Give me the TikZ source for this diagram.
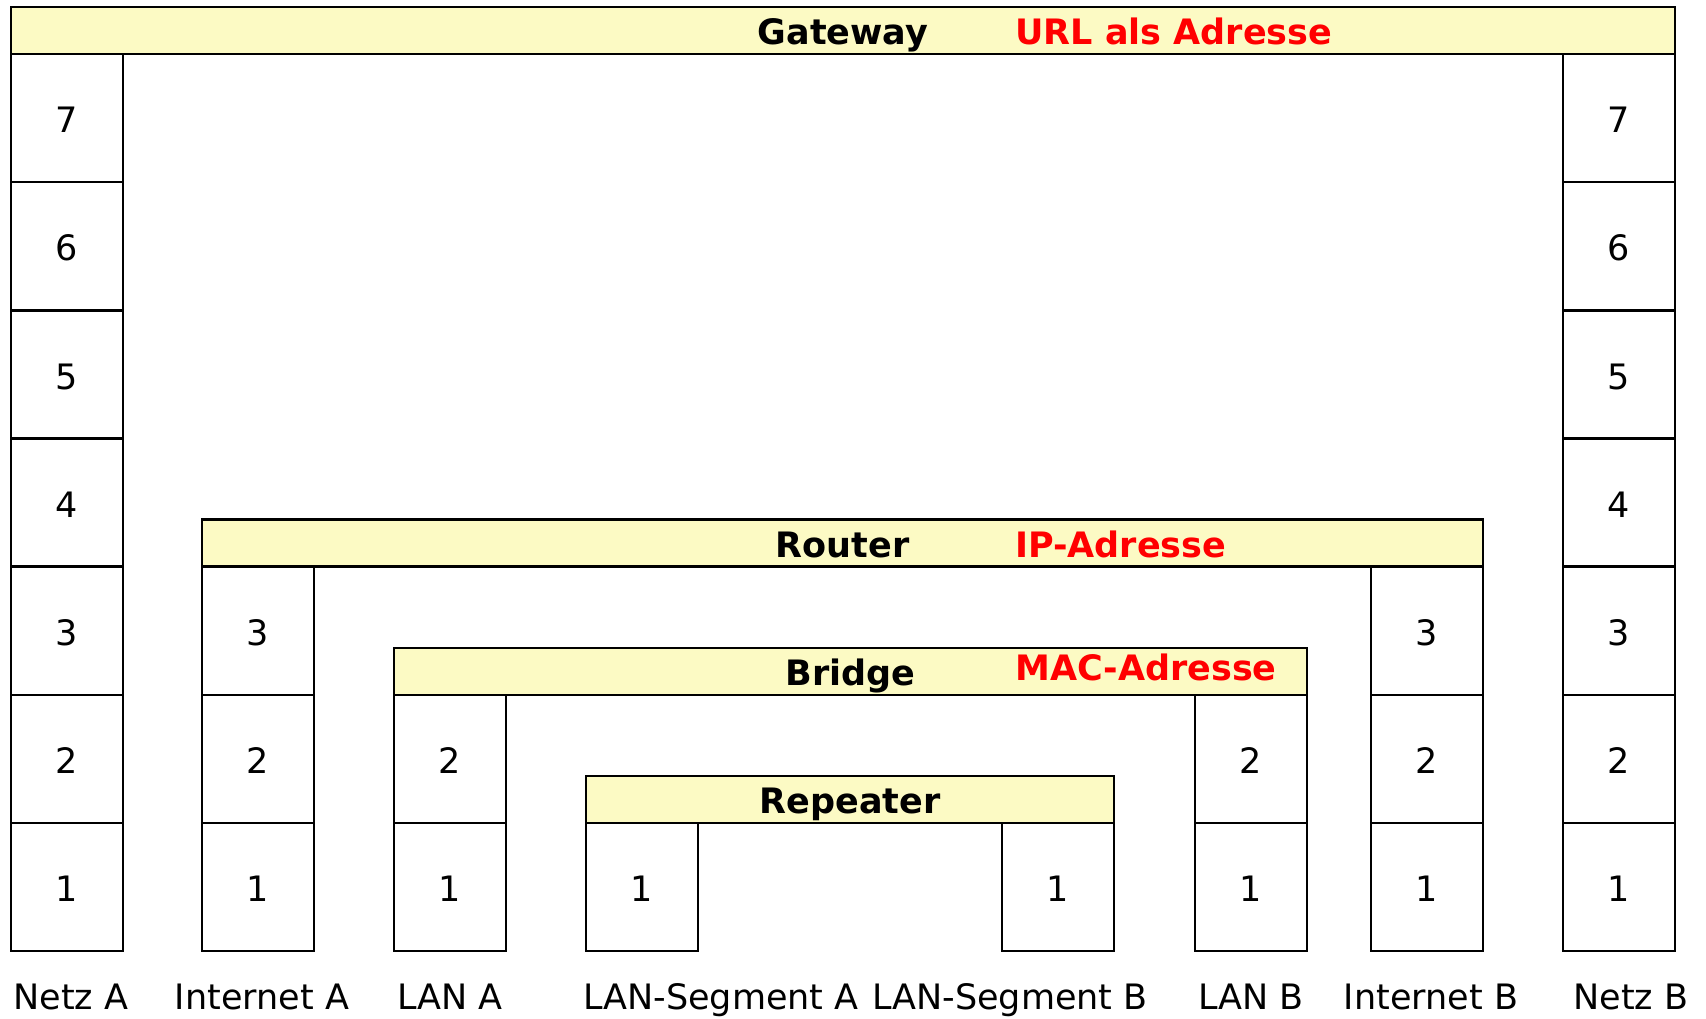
\documentclass[tikz,border=0pt]{standalone}
\usepackage{fontspec}
\setmainfont{DejaVu Sans}
\definecolor{barfill}{RGB}{252,250,196}
\begin{document}
\begin{tikzpicture}[x=1pt,y=-1pt,
  cell/.style={draw, line width=2.4pt, minimum width=112pt, minimum height=128.14pt, inner sep=0pt, text height=29.5pt, text depth=0pt, font=\fontsize{35}{40}\selectfont},
  bar/.style={draw, line width=2.4pt, fill=barfill, inner sep=0pt, minimum height=47pt},
  blabel/.style={anchor=base, inner sep=0pt, font=\fontsize{35}{40}\selectfont\bfseries},
  rlabel/.style={anchor=base west, inner sep=0pt, text=red, font=\fontsize{35}{40}\selectfont\bfseries},
  netlabel/.style={anchor=base, inner sep=0pt, font=\fontsize{35}{40}\selectfont}]
\useasboundingbox (0,0) rectangle (1706,1018);
% columns
\foreach \n in {1,...,7} {
  \node[cell] (na\n) at (67,{951-128.14*(\n-0.5)}) {\n};
  \node[cell] (nb\n) at (1619,{951-128.14*(\n-0.5)}) {\n};
}
\foreach \n in {1,...,3} {
  \node[cell] (ia\n) at (258,{951-128.14*(\n-0.5)}) {\n};
  \node[cell] (ib\n) at (1427,{951-128.14*(\n-0.5)}) {\n};
}
\foreach \n in {1,2} {
  \node[cell] (la\n) at (450,{951-128.14*(\n-0.5)}) {\n};
  \node[cell] (lb\n) at (1251,{951-128.14*(\n-0.5)}) {\n};
}
\node[cell] (sa1) at (642,{951-128.14*0.5}) {1};
\node[cell] (sb1) at (1058,{951-128.14*0.5}) {1};
% bars
\node[bar, minimum width=1664pt] (gw) at (843,{951-128.14*7-23.5}) {};
\node[bar, minimum width=1281pt] (rt) at (842.5,{951-128.14*3-23.5}) {};
\node[bar, minimum width=913pt] (br) at (850.5,{951-128.14*2-23.5}) {};
\node[bar, minimum width=528pt] (rp) at (850,{951-128.14*1-23.5}) {};
% bar labels
\node[blabel] (gwt) at ([yshift=-14pt]gw.center) {Gateway};
\node[rlabel] (gwr) at (1015,{951-128.14*7-23.5+14}) {URL als Adresse};
\node[blabel] (rtt) at ([yshift=-14pt]rt.center) {Router};
\node[rlabel] (rtr) at (1015,{951-128.14*3-23.5+14}) {IP-Adresse};
\node[blabel] (brt) at ([yshift=-14pt]br.center) {Bridge};
\node[rlabel] (brr) at (1015,{951-128.14*2-23.5+9}) {MAC-Adresse};
\node[blabel] (rpt) at ([yshift=-14pt]rp.center) {Repeater};
% network labels
\node[netlabel] (lna) at (71,1009) {Netz A};
\node[netlabel] (lia) at (262,1009) {Internet A};
\node[netlabel] (lla) at (450,1009) {LAN A};
\node[netlabel] (lsa) at (721,1009) {LAN-Segment A};
\node[netlabel] (lsb) at (1010,1009) {LAN-Segment B};
\node[netlabel] (llb) at (1251,1009) {LAN B};
\node[netlabel] (lib) at (1431,1009) {Internet B};
\node[netlabel] (lnb) at (1631,1009) {Netz B};
\end{tikzpicture}
\end{document}
